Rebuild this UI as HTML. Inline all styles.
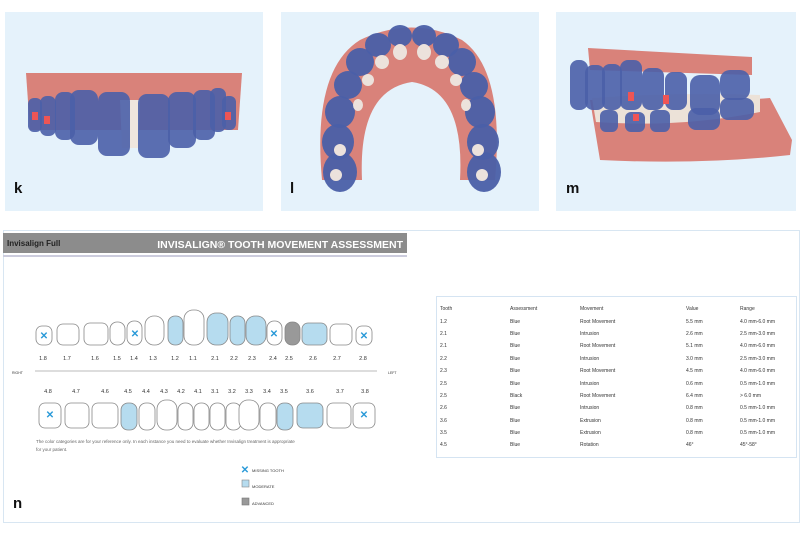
<!DOCTYPE html><html><head><style>
body{margin:0;width:800px;height:533px;background:#fff;font-family:"Liberation Sans",sans-serif;position:relative;overflow:hidden}
.p{position:absolute;background:#e5f2fb}
.lbl{position:absolute;font-size:15px;font-weight:bold;color:#111}
table{position:absolute;left:440px;top:303px;border-collapse:collapse;font-size:5px;color:#333}
td{height:12.4px;padding:0}
</style></head><body>
<div class="p" style="left:5px;top:12px;width:258px;height:199px"></div>
<div class="p" style="left:281px;top:12px;width:258px;height:199px"></div>
<div class="p" style="left:556px;top:12px;width:240px;height:199px"></div>
<svg style="position:absolute;left:0;top:0" width="800" height="533">
<!-- k -->
<path d="M26 73 L242 73 L238 130 L30 130 Z" fill="#d9827a"/>
<path d="M120 100 L140 100 L138 148 L122 148Z" fill="#efe6de"/>
<g fill="#4a5fa8" fill-opacity=".9">
<rect x="28" y="98" width="14" height="34" rx="6"/><rect x="40" y="96" width="16" height="40" rx="7"/><rect x="55" y="92" width="20" height="48" rx="8"/><rect x="70" y="90" width="28" height="55" rx="9"/>
<rect x="98" y="92" width="32" height="64" rx="9"/><rect x="138" y="94" width="32" height="64" rx="9"/><rect x="168" y="92" width="28" height="56" rx="9"/>
<rect x="193" y="90" width="22" height="50" rx="8"/><rect x="210" y="88" width="16" height="44" rx="7"/><rect x="222" y="96" width="14" height="34" rx="6"/></g>
<rect x="32" y="112" width="6" height="8" fill="#e55"/><rect x="44" y="116" width="6" height="8" fill="#e55"/><rect x="225" y="112" width="6" height="8" fill="#e55"/>
<!-- l -->
<path d="M322 180 Q312 70 360 40 Q412 15 462 40 Q505 70 495 180 L460 180 Q465 90 412 82 Q358 90 362 180Z" fill="#d9827a"/>
<g fill="#4a5fa8" fill-opacity=".95">
<ellipse cx="340" cy="172" rx="17" ry="20"/><ellipse cx="338" cy="142" rx="16" ry="18"/><ellipse cx="340" cy="112" rx="15" ry="16"/><ellipse cx="348" cy="85" rx="14" ry="14"/><ellipse cx="360" cy="62" rx="14" ry="14"/><ellipse cx="378" cy="45" rx="13" ry="12"/><ellipse cx="400" cy="36" rx="12" ry="11"/><ellipse cx="424" cy="36" rx="12" ry="11"/><ellipse cx="446" cy="45" rx="13" ry="12"/><ellipse cx="462" cy="62" rx="14" ry="14"/><ellipse cx="474" cy="86" rx="14" ry="14"/><ellipse cx="480" cy="112" rx="15" ry="16"/><ellipse cx="483" cy="142" rx="16" ry="18"/><ellipse cx="484" cy="172" rx="17" ry="20"/></g>
<g fill="#ece2dc"><ellipse cx="400" cy="52" rx="7" ry="8"/><ellipse cx="424" cy="52" rx="7" ry="8"/><ellipse cx="382" cy="62" rx="7" ry="7"/><ellipse cx="442" cy="62" rx="7" ry="7"/><ellipse cx="368" cy="80" rx="6" ry="6"/><ellipse cx="456" cy="80" rx="6" ry="6"/><ellipse cx="358" cy="105" rx="5" ry="6"/><ellipse cx="466" cy="105" rx="5" ry="6"/><ellipse cx="340" cy="150" rx="6" ry="6"/><ellipse cx="478" cy="150" rx="6" ry="6"/><ellipse cx="336" cy="175" rx="6" ry="6"/><ellipse cx="482" cy="175" rx="6" ry="6"/></g>
<!-- m -->
<path d="M588 48 L752 57 L752 75 L590 70Z" fill="#d9827a"/>
<path d="M590 100 L745 100 L770 98 L792 140 L790 155 Q700 165 600 160Z" fill="#d9827a"/>
<path d="M592 98 Q680 92 760 95 L760 112 Q680 128 596 122Z" fill="#ece2d8"/>
<g fill="#4a5fa8" fill-opacity=".9">
<rect x="570" y="60" width="18" height="50" rx="8"/><rect x="585" y="65" width="20" height="45" rx="8"/><rect x="602" y="64" width="20" height="46" rx="8"/><rect x="620" y="60" width="22" height="50" rx="8"/><rect x="642" y="68" width="22" height="42" rx="8"/><rect x="665" y="72" width="22" height="38" rx="8"/><rect x="690" y="75" width="30" height="40" rx="10"/><rect x="720" y="70" width="30" height="30" rx="10"/>
<rect x="600" y="110" width="18" height="22" rx="6"/><rect x="625" y="112" width="20" height="20" rx="6"/><rect x="650" y="110" width="20" height="22" rx="6"/><rect x="688" y="108" width="32" height="22" rx="8"/><rect x="720" y="98" width="34" height="22" rx="8"/></g>
<rect x="628" y="92" width="6" height="9" fill="#e55"/><rect x="663" y="95" width="6" height="9" fill="#e55"/><rect x="633" y="114" width="6" height="7" fill="#e55"/>
<!-- panel n -->
<rect x="3.5" y="230.5" width="796" height="292" fill="none" stroke="#d8e6f2"/>
<rect x="3" y="233" width="404" height="20" fill="#8c8c8c"/>
<line x1="3" y1="256" x2="407" y2="256" stroke="#ccd" stroke-width="2"/>
<text x="7" y="246" font-size="8" font-weight="bold" fill="#222">Invisalign Full</text>
<text x="403" y="248" font-size="10.5" font-weight="bold" fill="#fff" text-anchor="end">INVISALIGN® TOOTH MOVEMENT ASSESSMENT</text>
<line x1="35" y1="371" x2="377" y2="371" stroke="#bbb"/>
<text x="12" y="374" font-size="3.5" fill="#333">RIGHT</text><text x="388" y="374" font-size="3.5" fill="#333">LEFT</text>
<g font-size="5.5" fill="#333" text-anchor="middle">
<text x="43" y="360">1.8</text><text x="67" y="360">1.7</text><text x="95" y="360">1.6</text><text x="117" y="360">1.5</text><text x="134" y="360">1.4</text><text x="153" y="360">1.3</text><text x="175" y="360">1.2</text><text x="193" y="360">1.1</text><text x="215" y="360">2.1</text><text x="234" y="360">2.2</text><text x="252" y="360">2.3</text><text x="273" y="360">2.4</text><text x="289" y="360">2.5</text><text x="313" y="360">2.6</text><text x="337" y="360">2.7</text><text x="363" y="360">2.8</text>
<text x="48" y="393">4.8</text><text x="76" y="393">4.7</text><text x="105" y="393">4.6</text><text x="128" y="393">4.5</text><text x="146" y="393">4.4</text><text x="164" y="393">4.3</text><text x="181" y="393">4.2</text><text x="198" y="393">4.1</text><text x="215" y="393">3.1</text><text x="232" y="393">3.2</text><text x="249" y="393">3.3</text><text x="267" y="393">3.4</text><text x="284" y="393">3.5</text><text x="310" y="393">3.6</text><text x="340" y="393">3.7</text><text x="365" y="393">3.8</text>
</g>
<g stroke="#888" stroke-width=".8" fill="#fff">
<rect x="36" y="326" width="16" height="19" rx="6"/><rect x="57" y="324" width="22" height="21" rx="6"/><rect x="84" y="323" width="24" height="22" rx="6"/><rect x="110" y="322" width="15" height="23" rx="7"/><rect x="127" y="321" width="15" height="24" rx="7"/><rect x="145" y="316" width="19" height="29" rx="9"/>
<rect x="168" y="316" width="15" height="29" rx="7" fill="#b6dcef"/><rect x="184" y="310" width="20" height="35" rx="9"/><rect x="207" y="313" width="21" height="32" rx="9" fill="#b6dcef"/><rect x="230" y="316" width="15" height="29" rx="7" fill="#b6dcef"/><rect x="246" y="316" width="20" height="29" rx="9" fill="#b6dcef"/><rect x="267" y="321" width="15" height="24" rx="7"/><rect x="285" y="322" width="15" height="23" rx="7" fill="#999"/><rect x="302" y="323" width="25" height="22" rx="6" fill="#b6dcef"/><rect x="330" y="324" width="22" height="21" rx="6"/><rect x="356" y="326" width="16" height="19" rx="6"/>
<rect x="39" y="403" width="22" height="25" rx="6"/><rect x="65" y="403" width="24" height="25" rx="6"/><rect x="92" y="403" width="26" height="25" rx="6"/><rect x="121" y="403" width="16" height="27" rx="7" fill="#b6dcef"/><rect x="139" y="403" width="16" height="27" rx="7"/><rect x="157" y="400" width="20" height="30" rx="9"/><rect x="178" y="403" width="15" height="27" rx="7"/><rect x="194" y="403" width="15" height="27" rx="7"/><rect x="210" y="403" width="15" height="27" rx="7"/><rect x="226" y="403" width="15" height="27" rx="7"/><rect x="239" y="400" width="20" height="30" rx="9"/><rect x="260" y="403" width="16" height="27" rx="7"/><rect x="277" y="403" width="16" height="27" rx="7" fill="#b6dcef"/><rect x="297" y="403" width="26" height="25" rx="6" fill="#b6dcef"/><rect x="327" y="403" width="24" height="25" rx="6"/><rect x="353" y="403" width="22" height="25" rx="6"/>
</g>
<g fill="#2a9ad8" font-size="10" font-weight="bold" text-anchor="middle">
<text x="44" y="339">✕</text><text x="135" y="337">✕</text><text x="274" y="337">✕</text><text x="364" y="339">✕</text><text x="50" y="418">✕</text><text x="364" y="418">✕</text>
<text x="245" y="473">✕</text></g>
<text x="36" y="443" font-size="4.5" fill="#666">The color categories are for your reference only. In each instance you need to evaluate whether Invisalign treatment is appropriate</text>
<text x="36" y="451" font-size="4.5" fill="#666">for your patient.</text>
<rect x="242" y="480" width="7" height="7" fill="#b6dcef" stroke="#888" stroke-width=".6"/>
<rect x="242" y="498" width="7" height="7" fill="#999" stroke="#777" stroke-width=".6"/>
<g font-size="4" fill="#333"><text x="252" y="472">MISSING TOOTH</text><text x="252" y="488">MODERATE</text><text x="252" y="505">ADVANCED</text></g>
<text x="13" y="508" font-size="15" font-weight="bold" fill="#111">n</text>
<rect x="436.5" y="296.5" width="360" height="161" fill="none" stroke="#d5e4f2"/>
</svg>
<div class="lbl" style="left:14px;top:180px">k</div>
<div class="lbl" style="left:290px;top:180px">l</div>
<div class="lbl" style="left:566px;top:180px">m</div>
<table>
<colgroup><col style="width:70px"><col style="width:70px"><col style="width:106px"><col style="width:54px"><col style="width:56px"></colgroup>
<tr><td>Tooth</td><td>Assessment</td><td>Movement</td><td>Value</td><td>Range</td></tr>
<tr><td>1.2</td><td>Blue</td><td>Root Movement</td><td>5.5 mm</td><td>4.0 mm-6.0 mm</td></tr>
<tr><td>2.1</td><td>Blue</td><td>Intrusion</td><td>2.6 mm</td><td>2.5 mm-3.0 mm</td></tr>
<tr><td>2.1</td><td>Blue</td><td>Root Movement</td><td>5.1 mm</td><td>4.0 mm-6.0 mm</td></tr>
<tr><td>2.2</td><td>Blue</td><td>Intrusion</td><td>3.0 mm</td><td>2.5 mm-3.0 mm</td></tr>
<tr><td>2.3</td><td>Blue</td><td>Root Movement</td><td>4.5 mm</td><td>4.0 mm-6.0 mm</td></tr>
<tr><td>2.5</td><td>Blue</td><td>Intrusion</td><td>0.6 mm</td><td>0.5 mm-1.0 mm</td></tr>
<tr><td>2.5</td><td>Black</td><td>Root Movement</td><td>6.4 mm</td><td>&gt; 6.0 mm</td></tr>
<tr><td>2.6</td><td>Blue</td><td>Intrusion</td><td>0.8 mm</td><td>0.5 mm-1.0 mm</td></tr>
<tr><td>3.6</td><td>Blue</td><td>Extrusion</td><td>0.8 mm</td><td>0.5 mm-1.0 mm</td></tr>
<tr><td>3.5</td><td>Blue</td><td>Extrusion</td><td>0.8 mm</td><td>0.5 mm-1.0 mm</td></tr>
<tr><td>4.5</td><td>Blue</td><td>Rotation</td><td>46°</td><td>45°-58°</td></tr>
</table>
</body></html>
